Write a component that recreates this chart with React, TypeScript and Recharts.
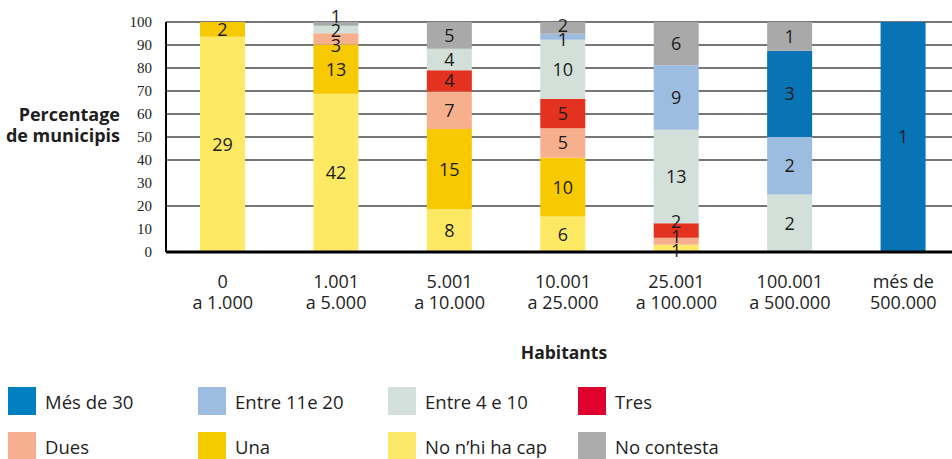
import { BarChart, Bar, XAxis, YAxis, CartesianGrid, Legend, LabelList } from "recharts";

// Population ranges (two-line tick labels)
const rangeFrom = ["0", "1.001", "5.001", "10.001", "25.001", "100.001", "més de"];
const rangeTo = ["a 1.000", "a 5.000", "a 10.000", "a 25.000", "a 100.000", "a 500.000", "500.000"];

// Counts of municipalities per answer, bottom of the stack first
const noCap = [29, 42, 8, 6, 1, 0, 0];
const una = [2, 13, 15, 10, 0, 0, 0];
const dues = [0, 3, 7, 5, 1, 0, 0];
const tres = [0, 0, 4, 5, 2, 0, 0];
const entre4 = [0, 2, 4, 10, 13, 2, 0];
const entre11 = [0, 0, 0, 1, 9, 2, 0];
const mes30 = [0, 0, 0, 0, 0, 3, 1];
const noContesta = [0, 1, 5, 2, 6, 1, 0];

const yTicks = [0, 10, 20, 30, 40, 50, 60, 70, 80, 90, 100];

const SANS = "'Open Sans', 'DejaVu Sans', sans-serif";
const SERIF = "'Liberation Serif', 'DejaVu Serif', serif";

const PLOT_TOP = 22;
const PLOT_H = 230;
const LABEL_GAP = 14.5;

const series = [
  { key: "noCap", name: "No n\u2019hi ha cap", values: noCap, fill: "#fde964", legend: "#fce96a" },
  { key: "una", name: "Una", values: una, fill: "#f6c900", legend: "#f5cc00" },
  { key: "dues", name: "Dues", values: dues, fill: "#f7b08d", legend: "#f6b091" },
  { key: "tres", name: "Tres", values: tres, fill: "#e3321f", legend: "#e0002f" },
  { key: "entre4", name: "Entre 4 e 10", values: entre4, fill: "#d3e0da", legend: "#d3e0db" },
  { key: "entre11", name: "Entre 11e 20", values: entre11, fill: "#9cbde0", legend: "#9dbde0" },
  { key: "mes30", name: "Més de 30", values: mes30, fill: "#0874b5", legend: "#0080c0" },
  { key: "noContesta", name: "No contesta", values: noContesta, fill: "#a9a9a9", legend: "#ababab" },
];

const legendOrder = ["mes30", "entre11", "entre4", "tres", "dues", "una", "noCap", "noContesta"];

const data = rangeFrom.map((from, i) => {
  const row: Record<string, string | number> = { name: from, to: rangeTo[i], idx: i };
  series.forEach((s) => {
    row[s.key] = s.values[i];
  });
  return row;
});

// spread the count labels of thin segments apart so they don't sit on each other
const labelShift: Record<string, number[]> = {};
series.forEach((s) => (labelShift[s.key] = rangeFrom.map(() => 0)));
rangeFrom.forEach((_, i) => {
  const total = series.reduce((sum, s) => sum + s.values[i], 0);
  let cum = 0;
  const items: { key: string; base: number; y: number }[] = [];
  series.forEach((s) => {
    const v = s.values[i];
    if (v > 0) {
      const y = (1 - (cum + v / 2) / total) * PLOT_H;
      items.push({ key: s.key, base: y, y });
    }
    cum += v;
  });
  items.sort((a, b) => a.y - b.y);
  for (let it = 0; it < 200; it++) {
    for (let k = 0; k + 1 < items.length; k++) {
      const a = items[k];
      const b = items[k + 1];
      const d = b.y - a.y;
      if (d < LABEL_GAP) {
        const push = (LABEL_GAP - d) / 2;
        a.y -= push;
        b.y += push;
      }
    }
    items.forEach((p) => {
      if (p.y > PLOT_H - 1) p.y = PLOT_H - 1;
    });
  }
  items.forEach((p) => (labelShift[p.key][i] = p.y - p.base));
});

function RangeTick(props: any) {
  const { x, y, payload } = props;
  const i = payload.index;
  return (
    <text x={x} y={y} textAnchor="middle" fill="#222" fontSize={18} fontFamily={SANS}>
      <tspan x={x} dy={28}>{rangeFrom[i]}</tspan>
      <tspan x={x} dy={21}>{rangeTo[i]}</tspan>
    </text>
  );
}

// LabelList value is the row index; the count and label shift are looked up from it
const countLabel = (s: (typeof series)[number]) => (props: any) => {
  const { x, y, width, height, value } = props;
  const i = Number(value);
  const count = s.values[i];
  if (!count) return null;
  const shift = labelShift[s.key][i] || 0;
  return (
    <text
      x={x + width / 2}
      y={y + height / 2 + shift}
      dy="0.36em"
      textAnchor="middle"
      fontSize={18}
      fill="#1c1c1c"
      fontFamily={SANS}
    >
      {count}
    </text>
  );
};

function LegendBox() {
  return (
    <div style={{ display: "grid", gridTemplateColumns: "190px 190px 190px 190px", rowGap: 17, fontFamily: SANS }}>
      {legendOrder.map((k) => {
        const s = series.find((d) => d.key === k)!;
        return (
          <div key={k} style={{ display: "flex", alignItems: "center", height: 28 }}>
            <span style={{ width: 28, height: 28, background: s.legend, display: "inline-block" }} />
            <span style={{ marginLeft: 9, fontSize: 18.5, color: "#1e1e1e" }}>{s.name}</span>
          </div>
        );
      })}
    </div>
  );
}

export default function App() {
  return (
    <div style={{ position: "absolute", left: 0, top: 0, width: 952, height: 459, overflow: "hidden", background: "#fff" }}>
      <BarChart
        width={960}
        height={459}
        data={data}
        stackOffset="expand"
        margin={{ top: PLOT_TOP, right: 0, left: 0, bottom: 147 }}
      >
        <CartesianGrid vertical={false} stroke="#4a4a4a" strokeWidth={1.7} />
        <XAxis
          dataKey="name"
          height={60}
          axisLine={{ stroke: "#000", strokeWidth: 3 }}
          tickLine={false}
          tick={<RangeTick />}
          interval={0}
          label={(p: any) => {
            const vb = p.viewBox;
            return (
              <text x={564} y={vb.y + 107} textAnchor="middle" fontSize={17.5} fontWeight="bold" fill="#1e1e1e" fontFamily={SANS}>
                Habitants
              </text>
            );
          }}
        />
        <YAxis
          width={166}
          domain={[0, 1]}
          ticks={yTicks.map((t) => t / 100)}
          tickFormatter={(v: number) => String(Math.round(v * 100))}
          axisLine={{ stroke: "#000", strokeWidth: 2 }}
          tickLine={false}
          tickSize={10}
          tickMargin={4}
          tick={{ fill: "#222", fontSize: 15, fontFamily: SERIF }}
          label={() => (
            <text textAnchor="end" fontSize={18} fontWeight="bold" fill="#1e1e1e" fontFamily={SANS}>
              <tspan x={120} y={121}>Percentage</tspan>
              <tspan x={120} y={142}>de municipis</tspan>
            </text>
          )}
        />
        <Legend
          layout="horizontal"
          verticalAlign="middle"
          align="center"
          wrapperStyle={{ position: "absolute", left: 8, top: 387, width: 944 }}
          content={() => <LegendBox />}
        />
        {series.map((s) => (
          <Bar key={s.key} dataKey={s.key} name={s.name} stackId="a" fill={s.fill} barSize={45} isAnimationActive={false}>
            <LabelList dataKey="idx" content={countLabel(s)} />
          </Bar>
        ))}
      </BarChart>
    </div>
  );
}
